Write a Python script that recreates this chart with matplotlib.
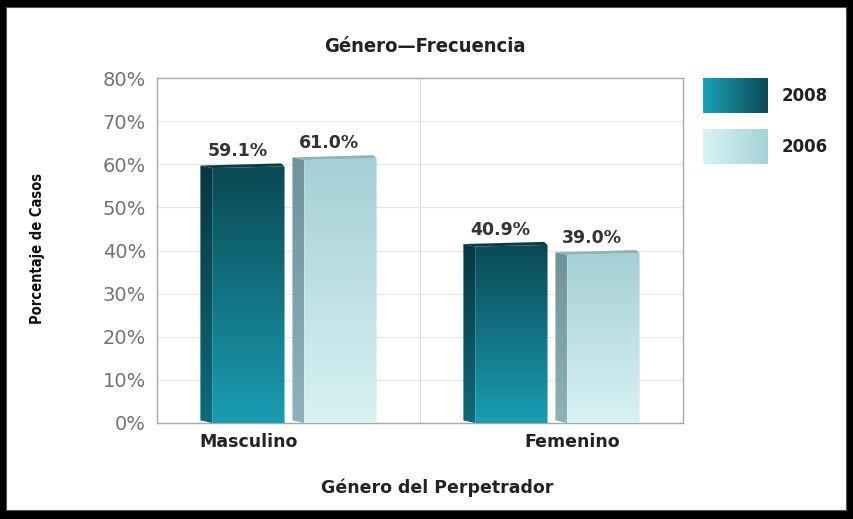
import matplotlib.pyplot as plt
import numpy as np
from matplotlib.colors import LinearSegmentedColormap
from matplotlib.patches import Polygon, Rectangle

# Datos
categorias = ['Masculino', 'Femenino']
series = ['2008', '2006']
valores_2008 = [59.1, 40.9]
valores_2006 = [61.0, 39.0]
yticks = [0, 10, 20, 30, 40, 50, 60, 70, 80]

# colores: (frente arriba, frente abajo, lateral arriba, lateral abajo, tapa)
estilos = {
    '2008': ('#0b4953', '#1a9db3', '#073740', '#0e6b7a', '#0a3c44'),
    '2006': ('#a4d0d5', '#d8f1f4', '#6f9399', '#8db2b8', '#8fb3b8'),
}
leyenda_grad = {'2008': ('#1aa2b8', '#0b4a55'), '2006': ('#d9f4f7', '#a5d3d8')}


def barra_3d(ax, xc, ancho, h, colores):
    top_c, bot_c, stop_c, sbot_c, tapa_c = colores
    x0, x1 = xc - ancho / 2, xc + ancho / 2
    d = ancho * 0.14
    g = np.linspace(0, 1, 256).reshape(-1, 1)
    # cara frontal con degradado
    frente = Polygon([(x0 + d, 0), (x1, 0), (x1, h + 0.4), (x0 + d, h)],
                     closed=True, facecolor='none', edgecolor='none')
    ax.add_patch(frente)
    cm = LinearSegmentedColormap.from_list('f', [bot_c, top_c])
    im = ax.imshow(g, extent=[x0 + d, x1, 0, h + 0.4], origin='lower',
                   aspect='auto', cmap=cm, zorder=3)
    im.set_clip_path(frente)
    # cara lateral
    lado = Polygon([(x0, 0.6), (x0 + d, 0), (x0 + d, h), (x0, h + 0.6)],
                   closed=True, facecolor='none', edgecolor='none')
    ax.add_patch(lado)
    cm2 = LinearSegmentedColormap.from_list('s', [sbot_c, stop_c])
    im2 = ax.imshow(g, extent=[x0, x0 + d, 0, h + 0.6], origin='lower',
                    aspect='auto', cmap=cm2, zorder=3)
    im2.set_clip_path(lado)
    # tapa
    tapa = Polygon([(x0, h + 0.6), (x0 + d, h), (x1, h + 0.4), (x1 - d * 0.3, h + 1.1)],
                   closed=True, facecolor=tapa_c, edgecolor='none', zorder=4)
    ax.add_patch(tapa)


fig = plt.figure(figsize=(8.54, 5.19), dpi=100, facecolor='black')
# fondo blanco dentro del marco negro
fig.patches.append(Rectangle((6 / 854, 9 / 519), (854 - 14) / 854, (519 - 16) / 519,
                             transform=fig.transFigure, facecolor='white',
                             edgecolor='#555555', linewidth=0.8, zorder=-5))

ax = fig.add_axes([157 / 854, 1 - 423 / 519, 526 / 854, 345 / 519])
ax.set_facecolor('white')

x = np.arange(len(categorias))
ancho = 0.32
sep = 0.015
for i, c in enumerate(categorias):
    for j, (s, vals) in enumerate(zip(series, [valores_2008, valores_2006])):
        xc = x[i] + (j - 0.5) * (ancho + sep * 2)
        barra_3d(ax, xc, ancho, vals[i], estilos[s])
        ax.text(xc - 0.02, vals[i] + 1.8, f'{vals[i]:.1f}%', ha='center', va='bottom',
                fontsize=12.5, fontweight='bold', color='#333333', zorder=5)

ax.set_xlim(-0.5, 1.5)
ax.set_ylim(0, 80)
ax.set_yticks(yticks)
ax.set_yticklabels([f'{t}%' for t in yticks], fontsize=14, color='#737373')
ax.tick_params(axis='y', length=0, pad=8)
ax.set_xticks([])
for t in yticks[1:-1]:
    ax.axhline(t, color='#e6e6e6', linewidth=0.8, zorder=1)
ax.axvline(0.5, color='#dcdcdc', linewidth=0.8, zorder=1)
for sp in ax.spines.values():
    sp.set_color('#a8a8a8')
    sp.set_linewidth(1.0)

# etiquetas de categoría
ax.text(x[0] - 0.15, -4.5, categorias[0], ha='center', va='center',
        fontsize=12.5, fontweight='bold', color='#222222')
ax.text(x[1] + 0.08, -4.5, categorias[1], ha='center', va='center',
        fontsize=12.5, fontweight='bold', color='#222222')

fig.text(437 / 854, 1 - 488 / 519, 'Género del Perpetrador', ha='center', va='center',
         fontsize=12.5, fontweight='bold', color='#222222')
fig.text(425 / 854, 1 - 47 / 519, 'Género—Frecuencia', ha='center', va='center',
         fontsize=14.5, fontweight='bold', color='#222222', fontstretch='condensed')
fig.text(38 / 854, 1 - 248 / 519, 'Porcentaje de Casos', ha='center', va='center',
         rotation=90, fontsize=10.5, fontweight='bold', color='#111111',
         fontstretch='condensed')

# leyenda
lax = fig.add_axes([0, 0, 1, 1], facecolor='none')
gh = np.linspace(0, 1, 256).reshape(1, -1)
for k, s in enumerate(series):
    y0 = 78 + k * 51
    cm = LinearSegmentedColormap.from_list('l', list(leyenda_grad[s]))
    lax.imshow(gh, extent=[703, 768, y0 + 35, y0], cmap=cm, aspect='auto')
    lax.text(782, y0 + 18, s, ha='left', va='center', fontsize=12,
             fontweight='bold', color='#222222')
lax.set_xlim(0, 854)
lax.set_ylim(519, 0)
lax.axis('off')

fig.savefig('out.png', dpi=100, facecolor=fig.get_facecolor())
